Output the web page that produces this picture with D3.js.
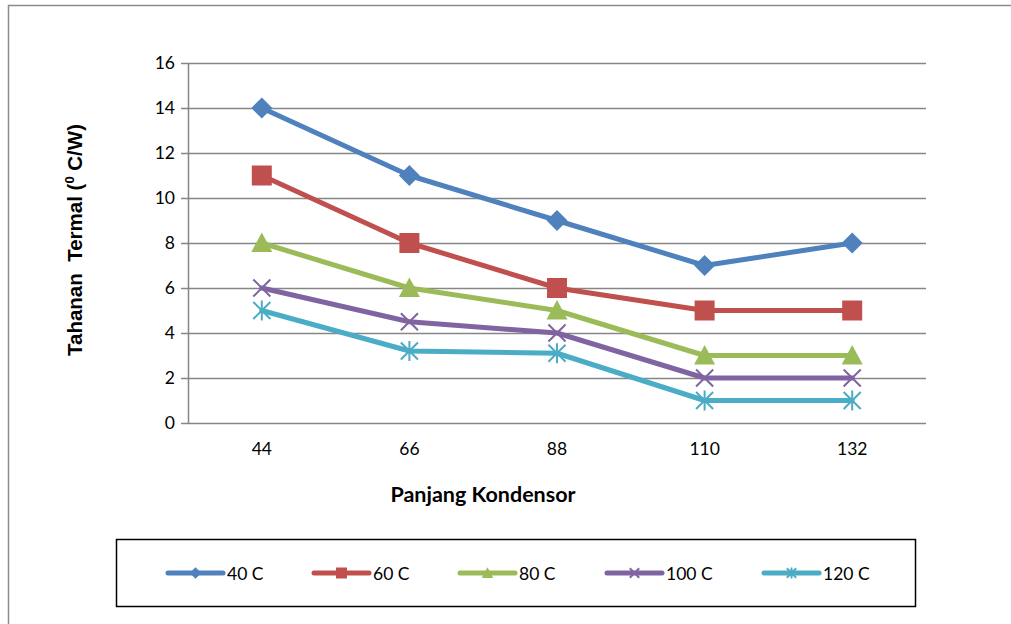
<!DOCTYPE html>
<html>
<head>
<meta charset="utf-8">
<script src="https://cdn.jsdelivr.net/npm/d3@7"></script>
<style>
  html, body { margin: 0; padding: 0; background: #fff; }
  svg { display: block; }
</style>
</head>
<body>
<svg id="chart" width="1011" height="624"></svg>
<script>
// Thermal resistance vs condenser length, one series per temperature
const categories = ["44", "66", "88", "110", "132"];
const seriesNames = ["40 C", "60 C", "80 C", "100 C", "120 C"];
const s40 = [14, 11, 9, 7, 8];
const s60 = [11, 8, 6, 5, 5];
const s80 = [8, 6, 5, 3, 3];
const s100 = [6, 4.5, 4, 2, 2];
const s120 = [5, 3.2, 3.1, 1, 1];
const yTicks = [0, 2, 4, 6, 8, 10, 12, 14, 16];
const colors = ["#4F81BD", "#C0504D", "#9BBB59", "#8064A2", "#4BACC6"];
const markers = ["diamond", "square", "triangle", "cross", "star"];

const seriesValues = [s40, s60, s80, s100, s120];
const svg = d3.select("#chart");

// outer chart frame (left and top edges visible)
svg.append("path")
  .attr("d", "M8.5,624 L8.5,5.5 L1011,5.5")
  .attr("fill", "none").attr("stroke", "#8c8c8c").attr("stroke-width", 1.5);

const plot = { left: 188, right: 926, top: 63, bottom: 423 };
const x = d3.scaleBand().domain(categories).range([plot.left, plot.right]);
const y = d3.scaleLinear().domain([0, 16]).range([plot.bottom, plot.top]);

const tickFont = "Lato, 'Open Sans', sans-serif";

// horizontal gridlines + y axis
const yAxis = d3.axisLeft(y).tickValues(yTicks).tickSize(-(plot.right - plot.left)).tickSizeOuter(0).tickPadding(13);
const gy = svg.append("g").attr("transform", `translate(${plot.left},0)`).call(yAxis);
gy.select(".domain").attr("stroke", "#868686").attr("stroke-width", 1.5);
gy.selectAll(".tick line").attr("stroke", "#868686").attr("stroke-width", 1.5).attr("x1", -7);
gy.selectAll(".tick text").attr("font-family", tickFont).attr("font-size", 17.5).attr("fill", "#000");

// x axis labels
const xAxis = d3.axisBottom(x).tickSize(0).tickPadding(20);
const gx = svg.append("g").attr("transform", `translate(0,${plot.bottom})`).call(xAxis);
gx.select(".domain").remove();
gx.selectAll(".tick text").attr("font-family", tickFont).attr("font-size", 17.5).attr("fill", "#000");

// axis titles
svg.append("text")
  .attr("x", x.range()[0] + (plot.right - plot.left) / 2 - 74)
  .attr("y", 502)
  .attr("text-anchor", "middle")
  .attr("font-family", tickFont).attr("font-weight", "bold").attr("font-size", 21.5)
  .text("Panjang Kondensor");

const yTitle = svg.append("text")
  .attr("transform", "translate(82,240) rotate(-90)")
  .attr("text-anchor", "middle")
  .attr("font-family", "'Liberation Sans', Arial, sans-serif").attr("font-weight", "bold").attr("font-size", 20.5);
yTitle.append("tspan").text("Tahanan\u00a0\u00a0Termal (");
yTitle.append("tspan").attr("font-size", 13).attr("dy", -8).text("0");
yTitle.append("tspan").attr("dy", 8).text(" C/W)");

// marker shapes
function drawMarker(g, type, cx, cy, s, color) {
  if (type === "diamond") {
    g.append("path").attr("d", `M${cx},${cy - s} L${cx + s},${cy} L${cx},${cy + s} L${cx - s},${cy} Z`).attr("fill", color);
  } else if (type === "square") {
    g.append("rect").attr("x", cx - s).attr("y", cy - s).attr("width", 2 * s).attr("height", 2 * s).attr("fill", color);
  } else if (type === "triangle") {
    g.append("path").attr("d", `M${cx},${cy - s} L${cx + s},${cy + s * 0.85} L${cx - s},${cy + s * 0.85} Z`).attr("fill", color);
  } else if (type === "cross") {
    const d = s * 0.95;
    g.append("path").attr("d", `M${cx - d},${cy - d} L${cx + d},${cy + d} M${cx - d},${cy + d} L${cx + d},${cy - d}`)
      .attr("stroke", color).attr("stroke-width", 2).attr("fill", "none");
  } else if (type === "star") {
    const d = s * 0.95;
    g.append("path").attr("d", `M${cx - d},${cy - d} L${cx + d},${cy + d} M${cx - d},${cy + d} L${cx + d},${cy - d} M${cx},${cy - s * 1.1} L${cx},${cy + s * 1.1}`)
      .attr("stroke", color).attr("stroke-width", 2).attr("fill", "none");
  }
}

const markerSize = [10.5, 10, 10.5, 9, 9];
const line = d3.line().x((d, i) => x(categories[i]) + x.bandwidth() / 2).y(d => y(d));

seriesValues.forEach((vals, si) => {
  const g = svg.append("g");
  g.append("path").datum(vals).attr("d", line)
    .attr("fill", "none").attr("stroke", colors[si]).attr("stroke-width", 5)
    .attr("stroke-linejoin", "round").attr("stroke-linecap", "round");
  vals.forEach((v, i) => {
    drawMarker(g, markers[si], x(categories[i]) + x.bandwidth() / 2, y(v), markerSize[si], colors[si]);
  });
});

// legend
svg.append("rect").attr("x", 116.5).attr("y", 539.5).attr("width", 799).attr("height", 67)
  .attr("fill", "#fff").attr("stroke", "#000").attr("stroke-width", 1.5);
const legendX = [168, 314, 460, 607, 764];
seriesNames.forEach((name, si) => {
  const g = svg.append("g");
  const lx = legendX[si], ly = 573;
  g.append("line").attr("x1", lx).attr("x2", lx + 55).attr("y1", ly).attr("y2", ly)
    .attr("stroke", colors[si]).attr("stroke-width", 5).attr("stroke-linecap", "round");
  drawMarker(g, markers[si], lx + 27.5, ly, markerSize[si] * 0.55, colors[si]);
  g.append("text").attr("x", lx + 59).attr("y", ly + 6.5)
    .attr("font-family", tickFont).attr("font-size", 17.5).attr("fill", "#000").text(name);
});
</script>
</body>
</html>
